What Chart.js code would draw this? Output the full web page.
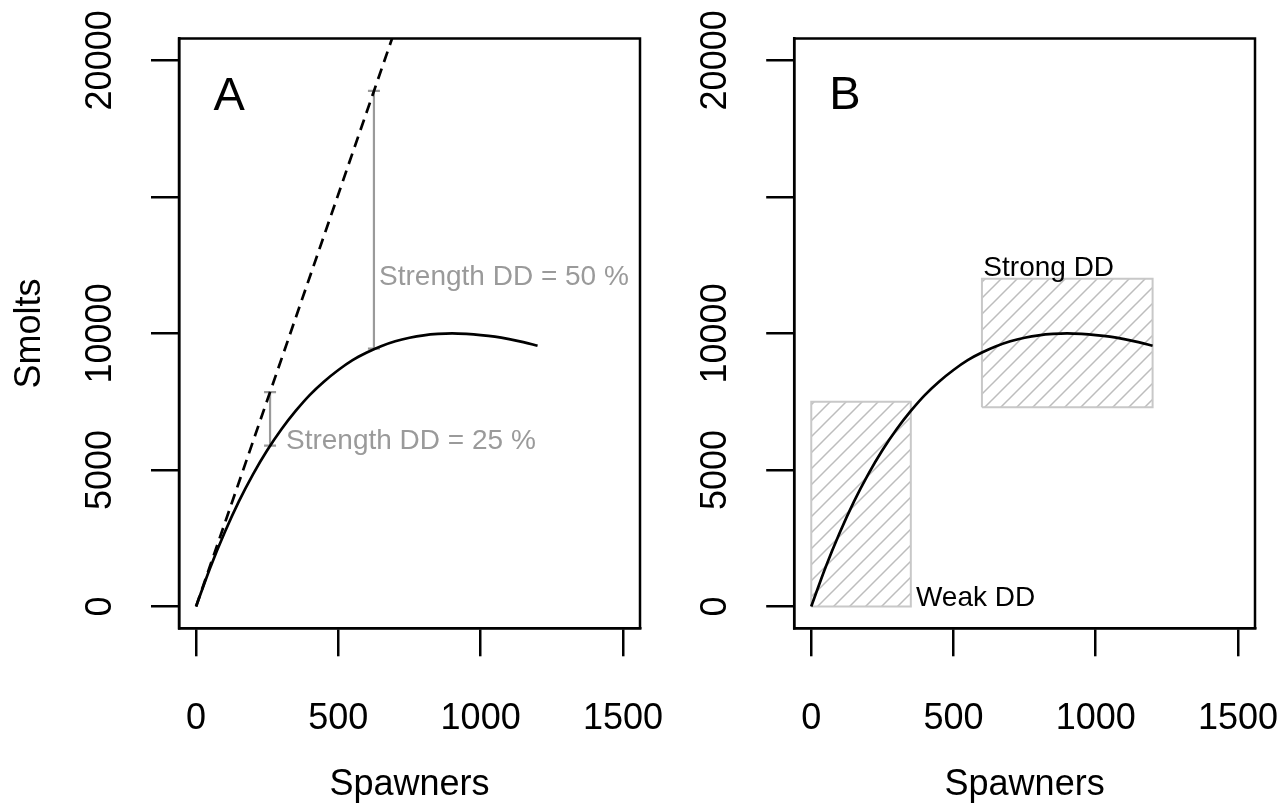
<!DOCTYPE html>
<html>
<head>
<meta charset="utf-8">
<script src="https://cdn.jsdelivr.net/npm/chart.js@4.4.1/dist/chart.umd.min.js"></script>
<style>
  html, body { margin: 0; padding: 0; background: #fff; }
  #wrap { position: relative; width: 1286px; height: 808px; }
  #wrap canvas { position: absolute; left: 0; top: 0; }
</style>
</head>
<body>
<div id="wrap">
  <canvas id="panelA" width="1286" height="808"></canvas>
  <canvas id="panelB" width="1286" height="808"></canvas>
</div>
<script>
// stock-recruitment curve: smolts produced for a given number of spawners
const spawners = [0, 50, 100, 150, 200, 250, 300, 350, 400, 450, 500, 550, 600,
                  650, 700, 750, 800, 850, 900, 950, 1000, 1050, 1100, 1150, 1200];
const smolts = [0, 1430, 2700, 3840, 4840, 5720, 6490, 7160, 7750, 8240, 8660, 9020, 9300,
                9530, 9710, 9840, 9930, 9980, 10000, 9980, 9940, 9880, 9790, 9680, 9550];

// density-independent line (slope at the origin)
const diSpawners = [0, 700];
const diSmolts = [0, 21140];

// strength of density dependence marked in panel A
const ddSpawners = [260, 625];
const ddUpper = [7850, 18880];
const ddStrength = [25, 50];

// weak / strong DD regions in panel B
const zoneLabels = ['Weak DD', 'Strong DD'];
const zoneXmin = [0, 600];
const zoneXmax = [350, 1200];
const zoneYmin = [0, 7300];
const zoneYmax = [7500, 12000];

const xTicks = [0, 500, 1000, 1500];
const yTicks = [0, 5000, 10000, 15000, 20000];
const yLabelled = [0, 5000, 10000, 20000];

const FONT = '"Liberation Sans", Arial, Helvetica, sans-serif';
const GREY = '#9a9a9a';
Chart.defaults.font.family = FONT;
Chart.defaults.color = '#000';

const curvePts = spawners.map((s, i) => ({ x: s, y: smolts[i] }));

function hatch(step, color) {
    const c = document.createElement('canvas');
    c.width = c.height = step;
    const g = c.getContext('2d');
    g.strokeStyle = color;
    g.lineWidth = 1.5;
    g.beginPath();
    g.moveTo(-1, step + 1); g.lineTo(step + 1, -1);
    g.moveTo(-2, 2); g.lineTo(2, -2);
    g.moveTo(step - 2, step + 2); g.lineTo(step + 2, step - 2);
    g.stroke();
    return g.createPattern(c, 'repeat');
}

// box around the plot region, like R's box()
const boxPlugin = {
    id: 'box',
    afterDatasetsDraw(chart) {
        const a = chart.chartArea;
        const ctx = chart.ctx;
        ctx.save();
        ctx.strokeStyle = '#000';
        ctx.lineWidth = 2.5;
        ctx.strokeRect(a.left, a.top, a.right - a.left, a.bottom - a.top);
        ctx.restore();
    }
};

// free text placed at data coordinates
function notes(items) {
    return {
        id: 'notes',
        afterDatasetsDraw(chart) {
            const ctx = chart.ctx;
            const xs = chart.scales.x, ys = chart.scales.y;
            ctx.save();
            items.forEach(n => {
                ctx.font = n.size + 'px ' + FONT;
                ctx.fillStyle = n.color || '#000';
                ctx.textAlign = n.align || 'left';
                ctx.textBaseline = 'middle';
                ctx.fillText(n.text, xs.getPixelForValue(n.x), ys.getPixelForValue(n.y));
            });
            ctx.restore();
        }
    };
}

function scales(yTitle) {
    return {
        x: {
            type: 'linear',
            min: -60,
            max: 1560,
            afterBuildTicks: ax => { ax.ticks = xTicks.map(v => ({ value: v })); },
            afterFit: ax => { ax.height = 179.7; ax.paddingLeft = 0; ax.paddingRight = 0; },
            grid: { drawOnChartArea: false, drawTicks: true, tickLength: 28, color: '#000', lineWidth: 2.5 },
            border: { display: true, color: '#000', width: 2.5 },
            ticks: { autoSkip: false, maxRotation: 0, font: { size: 36 }, padding: 41, callback: v => String(v) },
            title: { display: true, text: 'Spawners', font: { size: 36 }, padding: { top: 0, bottom: 1 } }
        },
        y: {
            type: 'linear',
            min: -800,
            max: 20800,
            afterBuildTicks: ax => { ax.ticks = yTicks.map(v => ({ value: v })); },
            afterFit: ax => { ax.width = 179; ax.paddingTop = 0; ax.paddingBottom = 0; },
            grid: { drawOnChartArea: false, drawTicks: true, tickLength: 28, color: '#000', lineWidth: 2.5 },
            border: { display: true, color: '#000', width: 2.5 },
            ticks: {
                autoSkip: false, minRotation: 90, maxRotation: 90, crossAlign: 'center',
                font: { size: 36 }, padding: 0,
                callback: v => yLabelled.includes(v) ? String(v) : ''
            },
            title: { display: !!yTitle, text: yTitle || '', font: { size: 36 }, padding: { top: 8, bottom: 0 } }
        }
    };
}

function baseOptions(padLeft, padRight, yTitle) {
    return {
        responsive: false,
        animation: false,
        layout: { padding: { left: padLeft, right: padRight, top: 38.5, bottom: 0 } },
        plugins: { legend: { display: false }, tooltip: { enabled: false } },
        scales: scales(yTitle)
    };
}

const curveSet = {
    data: curvePts,
    showLine: true,
    borderColor: '#000',
    borderWidth: 2.7,
    pointRadius: 0,
    cubicInterpolationMode: 'monotone',
    fill: false
};

// Panel A
const ddSets = ddSpawners.map((s, i) => ({
    data: [
        { x: s, y: ddUpper[i] * (1 - ddStrength[i] / 100) },
        { x: s, y: ddUpper[i] }
    ],
    showLine: true,
    borderColor: GREY,
    borderWidth: 2.2,
    pointStyle: 'line',
    pointRadius: 6,
    pointBorderColor: GREY,
    pointBorderWidth: 2.2,
    fill: false
}));

new Chart(document.getElementById('panelA'), {
    type: 'scatter',
    data: {
        datasets: [
            Object.assign({}, curveSet),
            {
                data: diSpawners.map((s, i) => ({ x: s, y: diSmolts[i] })),
                showLine: true,
                borderColor: '#000',
                borderWidth: 2.7,
                borderDash: [11, 7],
                pointRadius: 0,
                fill: false
            },
            ...ddSets
        ]
    },
    options: baseOptions(0, 646, 'Smolts'),
    plugins: [boxPlugin, notes([
        { text: 'A', x: 116, y: 18670, size: 47, align: 'center' },
        { text: 'Strength DD = ' + ddStrength[0] + ' %', x: 316, y: 6044, size: 28, color: GREY },
        { text: 'Strength DD = ' + ddStrength[1] + ' %', x: 643, y: 12070, size: 28, color: GREY }
    ])]
});

// Panel B
const pattern = hatch(16, '#bdbdbd');
const zoneSets = zoneLabels.map((lab, i) => ({
    label: lab,
    data: [
        { x: zoneXmin[i], y: zoneYmin[i] },
        { x: zoneXmax[i], y: zoneYmin[i] },
        { x: zoneXmax[i], y: zoneYmax[i] },
        { x: zoneXmin[i], y: zoneYmax[i] },
        { x: zoneXmin[i], y: zoneYmin[i] }
    ],
    showLine: true,
    borderColor: '#c8c8c8',
    borderWidth: 2,
    backgroundColor: pattern,
    pointRadius: 0,
    tension: 0,
    fill: 'shape'
}));

new Chart(document.getElementById('panelB'), {
    type: 'scatter',
    data: { datasets: [Object.assign({}, curveSet), ...zoneSets] },
    options: baseOptions(615.2, 31, null),
    plugins: [boxPlugin, notes([
        { text: 'B', x: 118, y: 18700, size: 47, align: 'center' },
        { text: zoneLabels[0], x: 368, y: 300, size: 28 },
        { text: zoneLabels[1], x: 605, y: 12370, size: 28 }
    ])]
});
</script>
</body>
</html>
